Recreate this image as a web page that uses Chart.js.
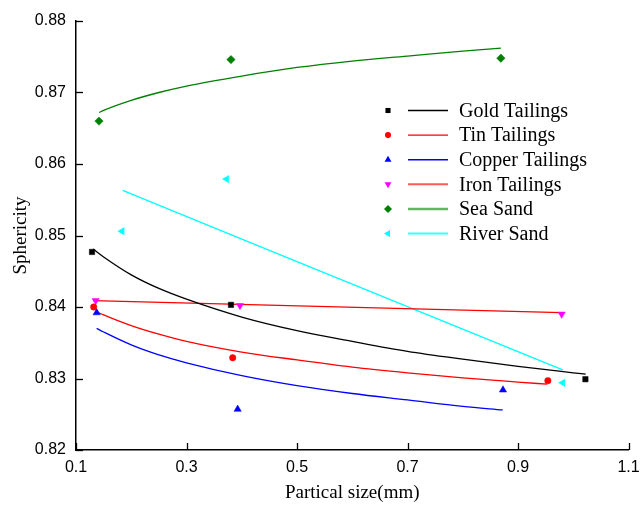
<!DOCTYPE html>
<html><head><meta charset="utf-8">
<script src="https://cdn.jsdelivr.net/npm/chart.js@4.4.1/dist/chart.umd.min.js"></script>
<style>html,body{margin:0;padding:0;background:#fff;}#wrap{width:641px;height:505px;}</style>
</head><body><div id="wrap"><canvas id="c" width="641" height="505"></canvas></div>
<script>
// ---- data ----
const seriesNames = ['Gold Tailings','Tin Tailings','Copper Tailings','Iron Tailings','Sea Sand','River Sand'];
const xTicks = [0.1,0.3,0.5,0.7,0.9,1.1];
const yTicks = [0.82,0.83,0.84,0.85,0.86,0.87,0.88];

const goldX = [0.129, 0.3805, 1.022];
const goldY = [0.8477, 0.8403, 0.8299];
const tinX = [0.132, 0.3836, 0.954];
const tinY = [0.8400, 0.8329, 0.8297];
const copperX = [0.1374, 0.3926, 0.8728];
const copperY = [0.8392, 0.8257, 0.8284];
const ironX = [0.1356, 0.3968, 0.979];
const ironY = [0.8409, 0.8402, 0.8390];
const seaX = [0.1416, 0.3805, 0.869];
const seaY = [0.8660, 0.8746, 0.8748];
const riverX = [0.1833, 0.3727, 0.981];
const riverY = [0.8506, 0.8579, 0.8294];

// fitted curves
const goldFitX = [0.131,0.15,0.2,0.25,0.3,0.4,0.5,0.6,0.7,0.8,0.9,1.0,1.0225];
const goldFitY = [0.8481,0.8470,0.8445,0.8426,0.8411,0.8386,0.8367,0.8352,0.8338,0.8327,0.8317,0.8308,0.8306];
const tinFitX = [0.1356,0.15,0.2,0.25,0.3,0.4,0.5,0.6,0.7,0.8,0.9,0.953];
const tinFitY = [0.8394,0.8389,0.8374,0.8362,0.8352,0.8337,0.8326,0.8316,0.8308,0.8301,0.8295,0.8292];
const copperFitX = [0.1374,0.15,0.2,0.25,0.3,0.4,0.5,0.6,0.7,0.8,0.8723];
const copperFitY = [0.8370,0.8365,0.8347,0.8333,0.8322,0.8304,0.8290,0.8279,0.8270,0.8261,0.8256];
const ironFitX = [0.1313, 0.979];
const ironFitY = [0.8409, 0.8392];
const seaFitX = [0.142,0.15,0.2,0.25,0.3,0.4,0.5,0.6,0.7,0.8,0.869];
const seaFitY = [0.8672,0.8675,0.8689,0.8700,0.8709,0.8723,0.8735,0.8744,0.8751,0.8758,0.8762];
const riverFitX = [0.1845, 0.981];
const riverFitY = [0.8563, 0.8312];

// ---- styles ----
const markerColors = ['#000000','#ff0000','#0000ff','#ff00ff','#008000','#00ffff'];
const lineColors = ['#000000','#ff0000','#0000ff','#ff0000','#008000','#00ffff'];
const legendLineColors = ['#000000','#ff0000','#0000ff','rgba(255,0,0,0.65)','rgba(0,128,0,0.6)','rgba(0,255,255,0.8)'];
const legendLineWidths = [1.4,1.4,1.4,2,2.5,2];
const pStyles = ['rect','circle','triangle','triangle','rectRot','triangle'];
const pRot = [0,0,0,180,0,-90];
const pRad = [3.8,3.2,4.2,4.2,4.2,4.2];

const pts = (xs, ys) => xs.map((x,i)=>({x:x, y:ys[i]}));
const pointSets = [[goldX,goldY],[tinX,tinY],[copperX,copperY],[ironX,ironY],[seaX,seaY],[riverX,riverY]];
const fitSets = [[goldFitX,goldFitY],[tinFitX,tinFitY],[copperFitX,copperFitY],[ironFitX,ironFitY],[seaFitX,seaFitY],[riverFitX,riverFitY]];

const datasets = [];
pointSets.forEach((s,i)=>datasets.push({
  label: seriesNames[i], data: pts(s[0],s[1]), showLine:false,
  pointStyle: pStyles[i], rotation: pRot[i], pointRadius: pRad[i],
  backgroundColor: markerColors[i], borderColor: markerColors[i], borderWidth: 0.5, clip:false
}));
fitSets.forEach((s,i)=>datasets.push({
  label: seriesNames[i]+' fit', data: pts(s[0],s[1]), showLine:true,
  pointRadius:0, borderColor: lineColors[i], borderWidth:1.3, fill:false,
  cubicInterpolationMode:'monotone', clip:false
}));

function drawMarker(ctx, style, rot, r, x, y, color){
  ctx.save(); ctx.fillStyle=color; ctx.translate(x,y); ctx.rotate(rot*Math.PI/180);
  ctx.beginPath();
  if(style==='rect'){const s=r*Math.SQRT1_2; ctx.rect(-s,-s,2*s,2*s);}
  else if(style==='circle'){ctx.arc(0,0,r,0,Math.PI*2);}
  else if(style==='triangle'){for(let k=0;k<3;k++){const a=k*2*Math.PI/3; const px=Math.sin(a)*r, py=-Math.cos(a)*r; if(k===0)ctx.moveTo(px,py); else ctx.lineTo(px,py);} ctx.closePath();}
  else if(style==='rectRot'){ctx.moveTo(-r,0);ctx.lineTo(0,-r);ctx.lineTo(r,0);ctx.lineTo(0,r);ctx.closePath();}
  ctx.fill(); ctx.restore();
}

const decor = {
  id:'decor',
  afterDraw(chart){
    const ctx=chart.ctx, xs=chart.scales.x, ys=chart.scales.y, ca=chart.chartArea;
    ctx.save(); ctx.strokeStyle='#000'; ctx.lineWidth=1.3;
    xs.ticks.forEach(t=>{const px=Math.round(xs.getPixelForValue(t.value))+0.5; ctx.beginPath(); ctx.moveTo(px,ca.bottom); ctx.lineTo(px,ca.bottom-7); ctx.stroke();});
    ys.ticks.forEach(t=>{const py=Math.round(ys.getPixelForValue(t.value))+0.5; ctx.beginPath(); ctx.moveTo(ca.left,py); ctx.lineTo(ca.left+7,py); ctx.stroke();});
    // legend
    const x0=388, y0=110.5, dy=24.6;
    ctx.font='20px "Liberation Serif", "Times New Roman", serif';
    ctx.textBaseline='middle'; ctx.textAlign='left'; ctx.fillStyle='#000';
    seriesNames.forEach((n,i)=>{
      const y=y0+i*dy;
      drawMarker(ctx,pStyles[i],pRot[i],pRad[i]*0.95,x0,y,markerColors[i]);
      ctx.strokeStyle=legendLineColors[i]; ctx.lineWidth=legendLineWidths[i];
      ctx.beginPath(); ctx.moveTo(408,y); ctx.lineTo(448,y); ctx.stroke();
      ctx.fillStyle='#000'; ctx.fillText(n,459,y+1);
    });
    ctx.restore();
  }
};

const tickFont = {family:'"Liberation Sans", Arial, sans-serif', size:16};
const titleFont = {family:'"Liberation Serif", "Times New Roman", serif', size:19};

new Chart(document.getElementById('c'), {
  type:'scatter',
  data:{datasets},
  options:{
    animation:false, responsive:false, devicePixelRatio:1,
    layout:{padding:{left:0,right:12.5,top:21,bottom:0}},
    plugins:{legend:{display:false}, tooltip:{enabled:false}},
    scales:{
      x:{type:'linear', min:0.1, max:1.1,
        afterBuildTicks:s=>{s.ticks=xTicks.map(v=>({value:v}));},
        afterFit:s=>{s.height=55; s.paddingLeft=0; s.paddingRight=0;},
        ticks:{font:tickFont, color:'#000', padding:8, maxRotation:0, autoSkip:false, callback:v=>Number(v).toFixed(1)},
        grid:{display:false, drawTicks:false},
        border:{display:true, color:'#000', width:1.5},
        title:{display:true, text:'Partical size(mm)', font:titleFont, color:'#000', padding:{top:0,bottom:1}}
      },
      y:{type:'linear', min:0.82, max:0.88,
        afterBuildTicks:s=>{s.ticks=yTicks.map(v=>({value:v}));},
        afterFit:s=>{s.width=76; s.paddingTop=0; s.paddingBottom=0;},
        ticks:{font:tickFont, color:'#000', padding:10, autoSkip:false, callback:v=>Number(v).toFixed(2)},
        grid:{display:false, drawTicks:false},
        border:{display:true, color:'#000', width:1.5},
        title:{display:true, text:'Sphericity', font:titleFont, color:'#000', padding:{top:10,bottom:0}}
      }
    }
  },
  plugins:[decor]
});
</script></body></html>
